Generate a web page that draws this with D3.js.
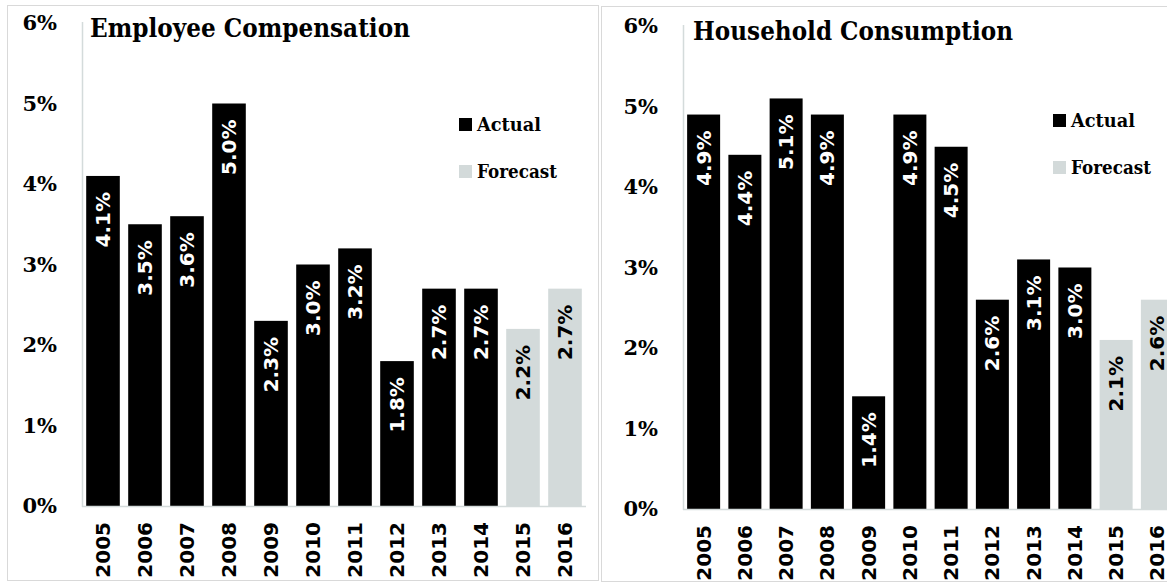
<!DOCTYPE html>
<html>
<head>
<meta charset="utf-8">
<script src="https://cdn.jsdelivr.net/npm/d3@7"></script>
<style>
  html, body { margin: 0; padding: 0; background: #fff; }
  svg { display: block; }
</style>
</head>
<body>
<svg id="chart" width="1167" height="582"></svg>
<script>
// Annual growth rates, percent
const years = ["2005","2006","2007","2008","2009","2010","2011","2012","2013","2014","2015","2016"];
const compensation = [4.1, 3.5, 3.6, 5.0, 2.3, 3.0, 3.2, 1.8, 2.7, 2.7, 2.2, 2.7];
const consumption  = [4.9, 4.4, 5.1, 4.9, 1.4, 4.9, 4.5, 2.6, 3.1, 3.0, 2.1, 2.6];
const forecastYears = ["2015", "2016"];
const yTicks = [0, 1, 2, 3, 4, 5, 6];
const legendItems = ["Actual", "Forecast"];

const ACTUAL = "#000000";
const FORECAST = "#d3dada";
const SERIF = "'DejaVu Serif', 'Liberation Serif', serif";
const SANS = "'DejaVu Sans', 'Liberation Sans', sans-serif";

const svg = d3.select("#chart");

function drawPanel(cfg) {
  const g = svg.append("g");

  // panel frame
  g.append("rect")
    .attr("x", cfg.frame[0] + 0.5).attr("y", cfg.frame[1] + 0.5)
    .attr("width", cfg.frame[2]).attr("height", cfg.frame[3])
    .attr("fill", "#fff").attr("stroke", "#d9d9d9").attr("stroke-width", 1);

  const x = d3.scaleBand()
    .domain(years)
    .range([cfg.axisX, cfg.axisX + cfg.plotW])
    .paddingInner(0.2)
    .paddingOuter(0.1);

  const y = d3.scaleLinear().domain([0, 6]).range([cfg.zeroY, cfg.topY]);

  const rows = years.map((yr, i) => ({ year: yr, value: cfg.values[i], forecast: forecastYears.includes(yr) }));

  // bars
  g.selectAll("rect.bar").data(rows).join("rect")
    .attr("class", "bar")
    .attr("x", d => x(d.year))
    .attr("width", x.bandwidth())
    .attr("y", d => y(d.value))
    .attr("height", d => y(0) - y(d.value))
    .attr("fill", d => d.forecast ? FORECAST : ACTUAL);

  // axis lines
  g.append("line")
    .attr("x1", cfg.axisX + 0.5).attr("x2", cfg.axisX + 0.5)
    .attr("y1", y(6) - 1).attr("y2", y(0) + 1)
    .attr("stroke", "#d4dbdb").attr("stroke-width", 1.5);
  g.append("line")
    .attr("x1", cfg.axisX).attr("x2", cfg.axisX + cfg.plotW)
    .attr("y1", y(0) + 0.5).attr("y2", y(0) + 0.5)
    .attr("stroke", "#d4dbdb").attr("stroke-width", 1.5);

  // y tick labels
  const yAxis = d3.axisLeft(y).tickValues(yTicks).tickFormat(d => d + "%").tickSize(0).tickPadding(25);
  const ya = g.append("g").attr("transform", `translate(${cfg.axisX},0)`).call(yAxis);
  ya.select(".domain").remove();
  ya.selectAll("text")
    .attr("font-family", SERIF).attr("font-weight", "bold")
    .attr("font-size", 21).attr("fill", "#000");

  // x tick labels, rotated
  g.selectAll("text.year").data(rows).join("text")
    .attr("class", "year")
    .attr("transform", d => `translate(${x(d.year) + x.bandwidth() / 2 + 7},${y(0) + 16}) rotate(-90)`)
    .attr("text-anchor", "end")
    .attr("font-family", SANS).attr("font-weight", "bold")
    .attr("font-size", 20).attr("fill", "#000")
    .text(d => d.year);

  // value labels inside bars
  g.selectAll("text.val").data(rows).join("text")
    .attr("class", "val")
    .attr("transform", d => `translate(${x(d.year) + x.bandwidth() / 2 + 7},${y(d.value) + 16}) rotate(-90)`)
    .attr("text-anchor", "end")
    .attr("font-family", SANS).attr("font-weight", "bold")
    .attr("font-size", 20)
    .attr("fill", d => d.forecast ? "#000" : "#fff")
    .text(d => d.value.toFixed(1) + "%");

  // title
  g.append("text")
    .attr("x", cfg.titleX).attr("y", cfg.topY + 14)
    .attr("font-family", SERIF).attr("font-weight", "bold")
    .attr("font-size", 26).attr("fill", "#000")
    .attr("textLength", cfg.titleLen).attr("lengthAdjust", "spacingAndGlyphs")
    .text(cfg.title);

  // legend
  const lg = g.selectAll("g.legend").data(legendItems).join("g")
    .attr("class", "legend")
    .attr("transform", (d, i) => `translate(${cfg.legendX},${cfg.legendY + i * 47})`);
  lg.append("rect")
    .attr("x", 0).attr("y", -13).attr("width", 13).attr("height", 13)
    .attr("fill", (d, i) => i === 0 ? ACTUAL : FORECAST);
  lg.append("text")
    .attr("x", 18).attr("y", 0)
    .attr("font-family", SERIF).attr("font-weight", "bold")
    .attr("font-size", 19).attr("fill", "#000")
    .attr("textLength", (d, i) => i === 0 ? 64 : 80).attr("lengthAdjust", "spacingAndGlyphs")
    .text(d => d);
}

drawPanel({
  frame: [7, 5, 591, 575],
  axisX: 82, plotW: 504, zeroY: 506, topY: 23,
  values: compensation,
  title: "Employee Compensation", titleX: 90, titleLen: 320,
  legendX: 459, legendY: 131
});

drawPanel({
  frame: [601, 6, 600, 575],
  axisX: 683, plotW: 495, zeroY: 509, topY: 26,
  values: consumption,
  title: "Household Consumption", titleX: 693, titleLen: 320,
  legendX: 1053, legendY: 127
});
</script>
</body>
</html>
